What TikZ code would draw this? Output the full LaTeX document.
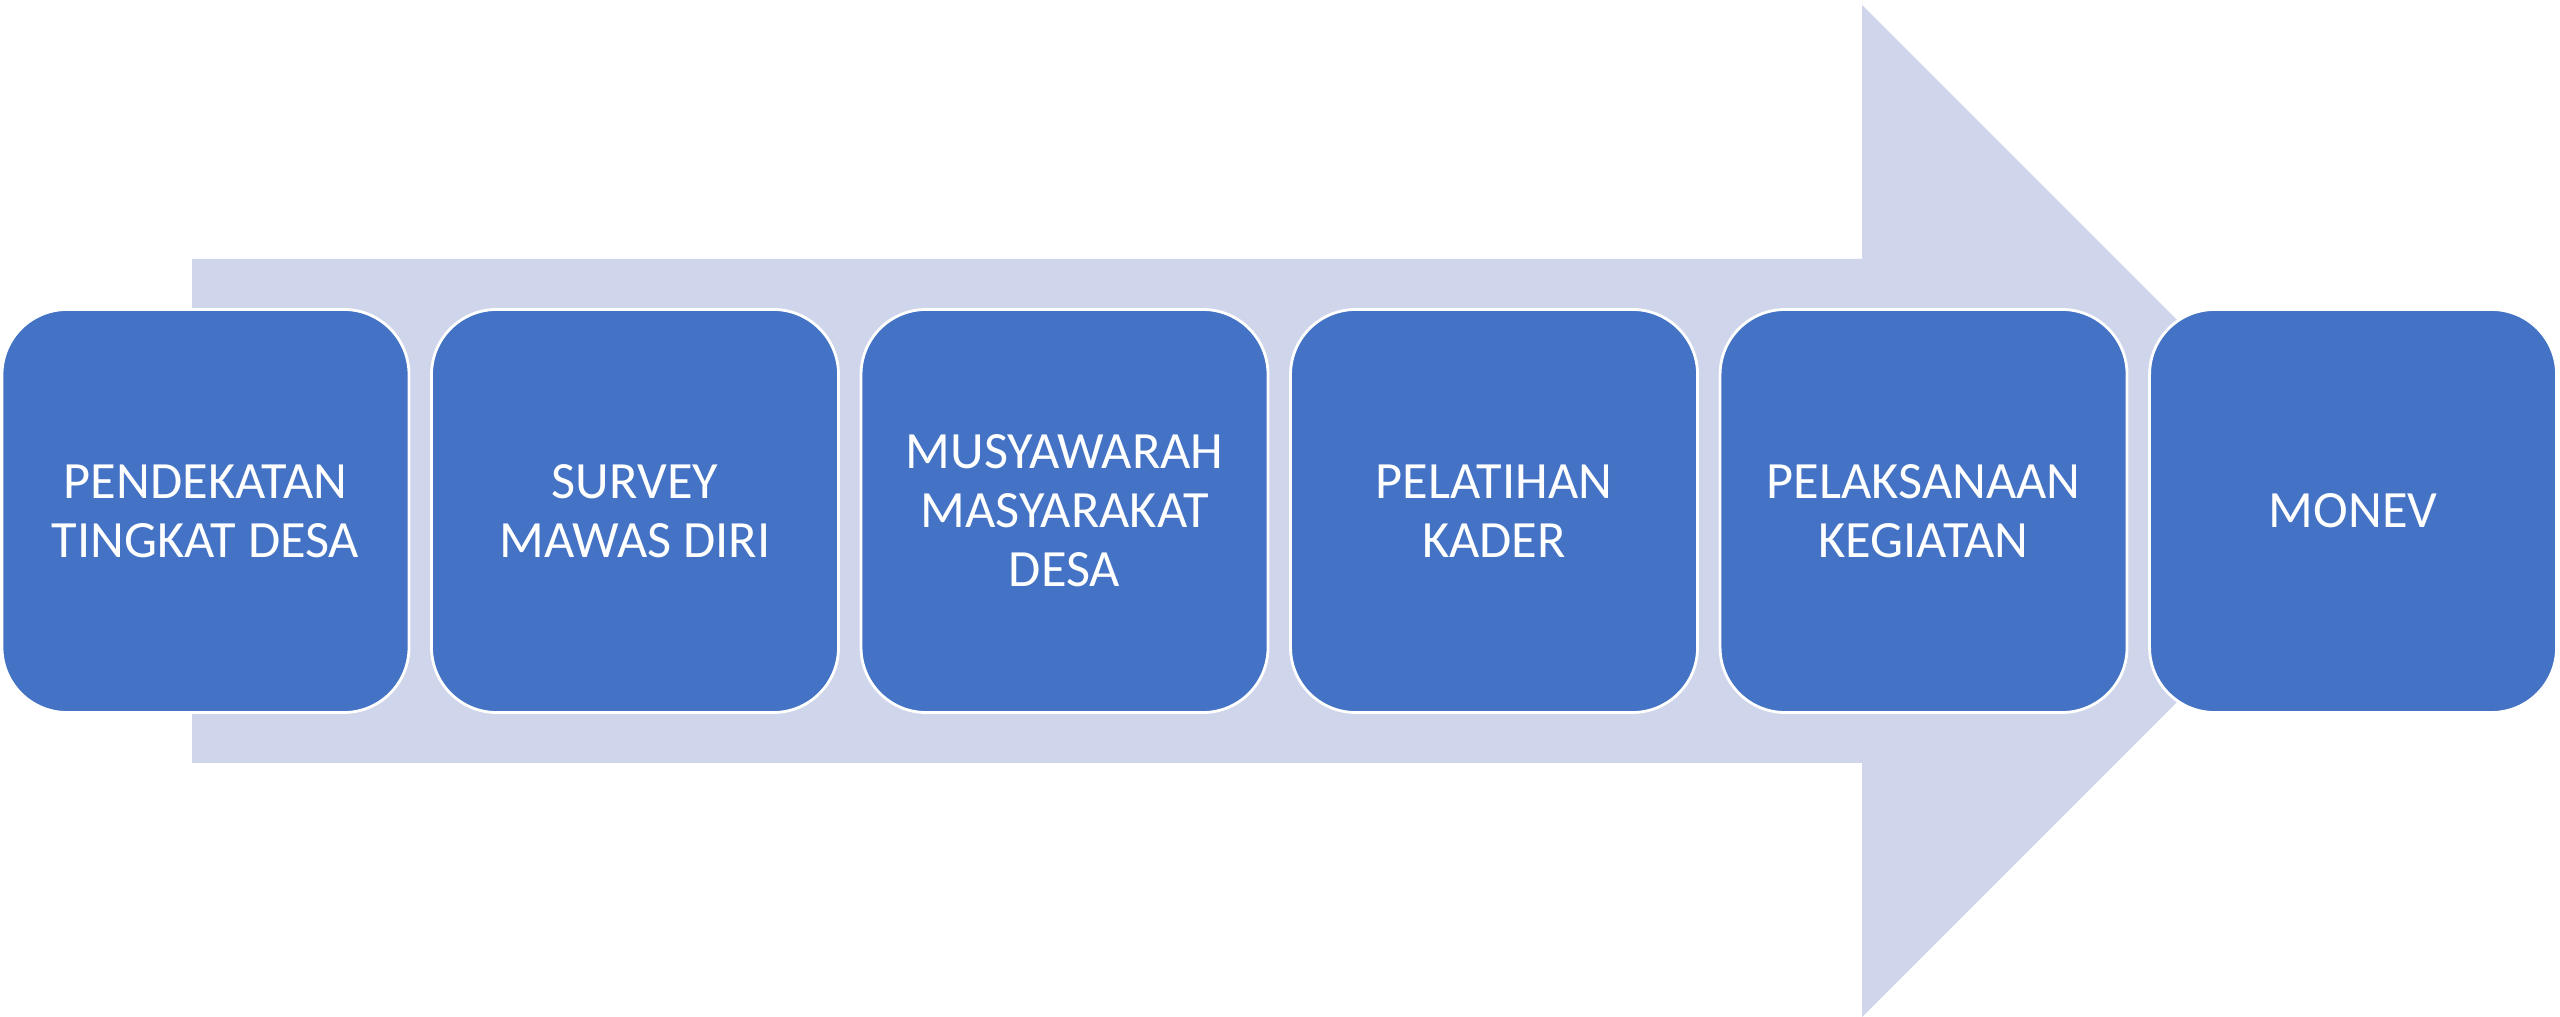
\documentclass[tikz,border=0pt]{standalone}
\usepackage{fontspec}
\setmainfont{Carlito}
\usetikzlibrary{positioning}
\definecolor{tahapblue}{HTML}{4472C4}
\definecolor{panahgrey}{HTML}{CFD5EA}

\begin{document}
\begin{tikzpicture}[
		tahap/.style={draw=white, line width=0.8pt, fill=tahapblue, rounded corners=0.65cm,
			minimum width=4.07cm, minimum height=4.03cm, inner sep=0pt,
			text=white, align=center, font=\fontsize{14.9}{16.8}\selectfont}]
		\useasboundingbox (0,-5.06) rectangle (25.6,5.11);
		% big arrow behind the steps
		\fill[panahgrey] (1.92,-2.52) -- (1.92,2.52) -- (18.62,2.52) -- (18.62,5.06)
			-- (23.68,0) -- (18.62,-5.06) -- (18.62,-2.52) -- cycle;
		\node[tahap] (desa) at (2.055,0) {PENDEKATAN\\TINGKAT DESA};
		\node[tahap, right=0.197cm of desa] (survey) {SURVEY\\MAWAS DIRI};
		\node[tahap, right=0.197cm of survey] (musyawarah) {MUSYAWARAH\\MASYARAKAT\\DESA};
		\node[tahap, right=0.197cm of musyawarah] (pelatihan) {PELATIHAN\\KADER};
		\node[tahap, right=0.197cm of pelatihan] (pelaksanaan) {PELAKSANAAN\\KEGIATAN};
		\node[tahap, right=0.197cm of pelaksanaan] (monev) {MONEV};
	\end{tikzpicture}
\end{document}
